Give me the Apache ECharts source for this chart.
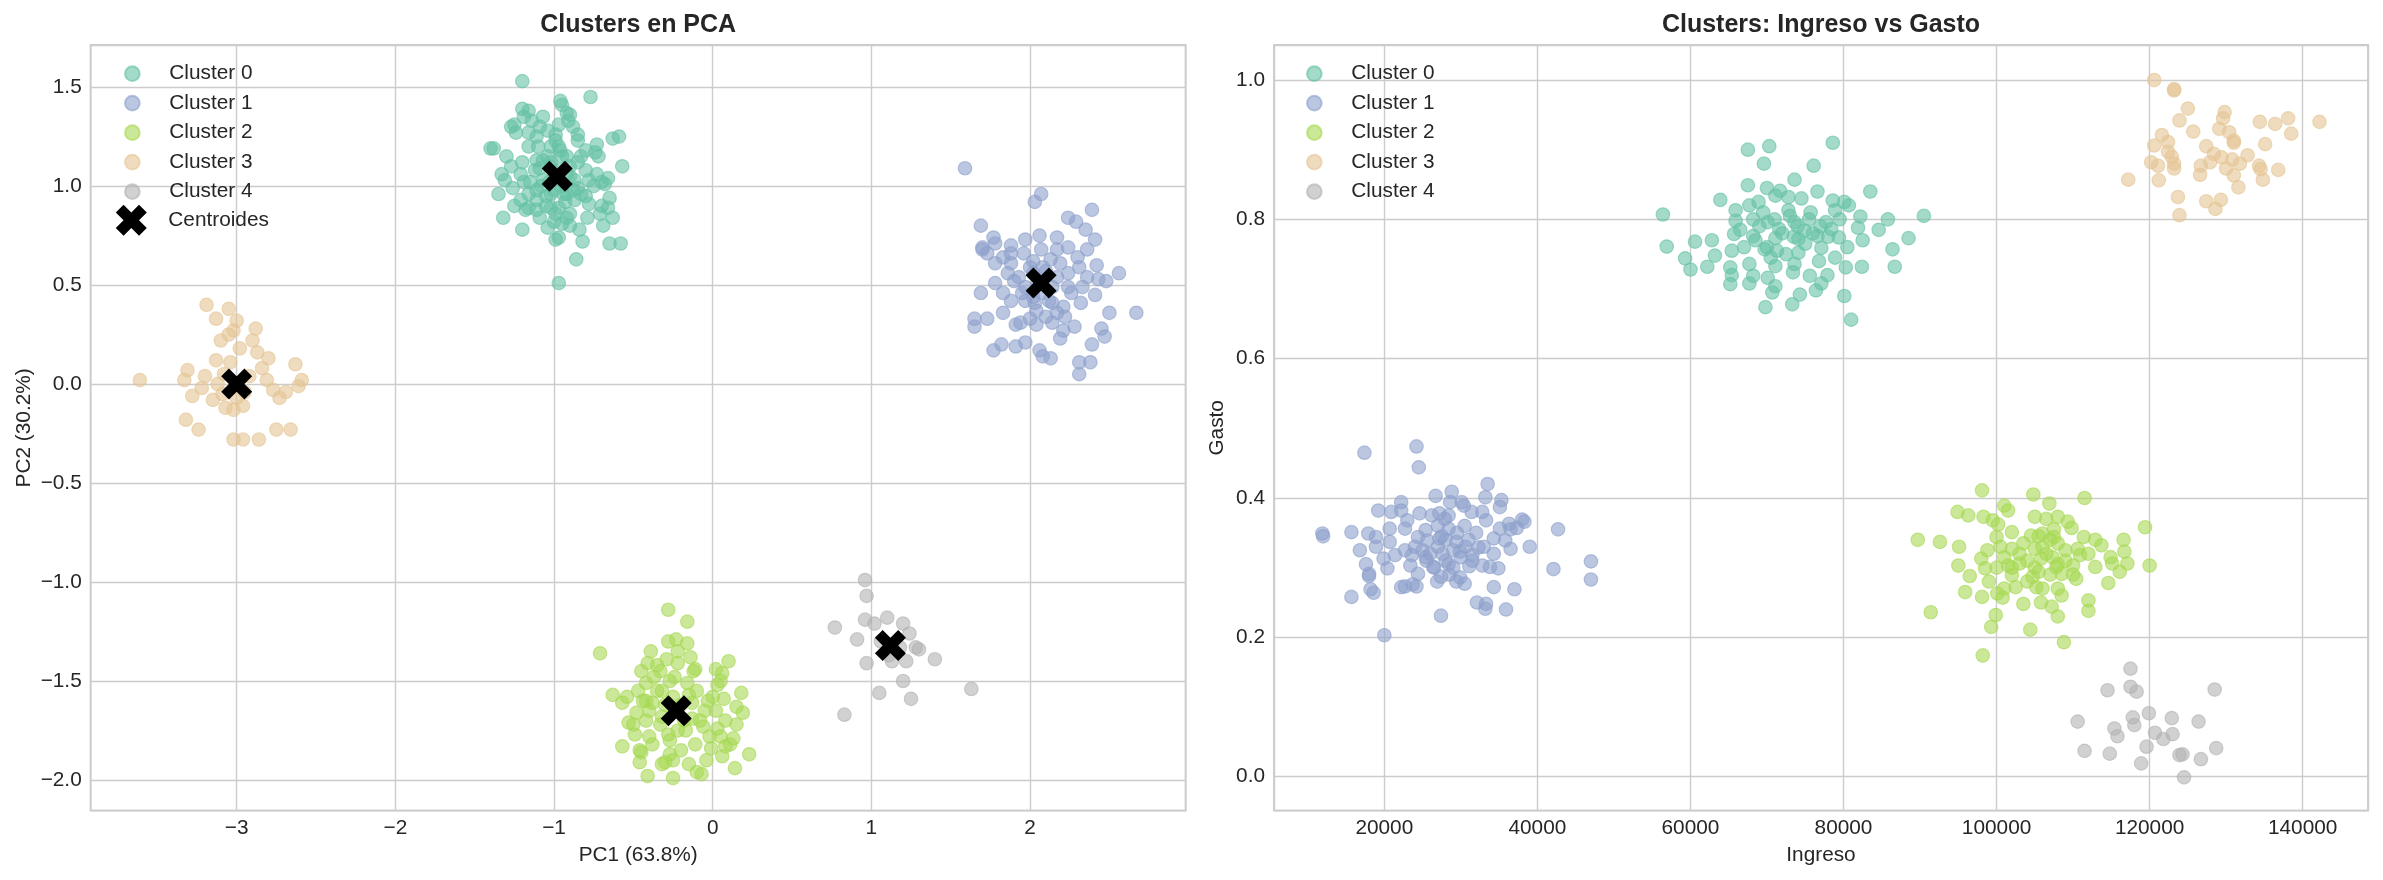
<!DOCTYPE html>
<html>
<head>
<meta charset="utf-8">
<script src="https://cdn.jsdelivr.net/npm/echarts@6/dist/echarts.min.js"></script>
<style>
  html, body { margin: 0; padding: 0; background: #fff; }
  #chart { width: 2383px; height: 880px; }
</style>
</head>
<body>
<div id="chart"></div>
<script>
// nombres y colores (Set2)
var clusterNames = ['Cluster 0', 'Cluster 1', 'Cluster 2', 'Cluster 3', 'Cluster 4'];
var clusterRgb = ['102,194,165', '141,160,203', '166,216,84', '229,196,148', '179,179,179'];

// --- PCA: [PC1, PC2] ---
var pcaCluster0 = [
  [-1.20,1.53],[-0.77,1.45],[-0.96,1.43],[-0.95,1.41],[-1.20,1.39],[-1.16,1.38],[-1.27,1.30],[-1.25,1.31],
  [-1.07,1.35],[-0.91,1.33],[-0.88,1.30],[-1.19,1.35],[-1.40,1.19],[-1.38,1.19],[-0.63,1.24],[-0.59,1.25],
  [-0.73,1.21],[-0.74,1.17],[-0.57,1.10],[-1.11,1.25],[-0.99,1.26],[-0.85,1.23],[-1.02,1.20],[-1.16,1.20],
  [-1.30,1.15],[-1.27,1.10],[-1.33,1.06],[-1.31,1.03],[-1.35,0.96],[-1.32,0.84],[-1.20,0.78],[-0.99,0.73],
  [-0.97,0.74],[-0.82,0.72],[-0.65,0.71],[-0.58,0.71],[-0.86,0.63],[-0.97,0.51],[-0.66,1.04],[-0.68,1.01],
  [-0.70,1.02],[-0.65,0.94],[-0.66,0.89],[-0.71,0.86],[-0.63,0.84],[-0.69,0.80],[-0.79,0.84],[-0.84,0.78],
  [-0.92,0.84],[-1.09,0.84],[-1.02,0.89],[-1.11,0.93],[-1.21,0.93],[-1.16,0.89],[-0.87,0.93],[-0.78,0.91],
  [-0.92,0.96],[-1.07,1.03],[-1.11,0.98],[-0.87,1.03],[-0.80,1.08],[-0.73,1.06],[-0.90,1.10],[-1.11,1.13],
  [-1.04,1.15],[-0.95,1.15],[-0.83,1.15],[-0.97,1.20],[-1.09,1.09],[-1.21,1.06],[-0.97,0.89],[-0.90,0.86],
  [-0.83,0.96],[-1.16,0.96],[-1.02,0.96],[-1.04,0.79],[-0.95,0.81],[-0.99,0.86],[-1.11,0.88],[-0.78,1.03],
  [-0.85,0.99],[-0.80,1.18],[-0.99,1.23],[-1.04,1.28],[-0.97,1.31],[-0.92,1.37],[-0.90,1.36],[-1.14,1.33],
  [-1.09,1.30],[-1.24,1.27],[-1.16,1.27],[-1.02,1.10],[-0.92,1.06],[-1.26,0.99],[-1.19,1.02],
  [-1.00,1.05],[-0.95,1.00],[-1.05,0.95],[-0.90,1.05],[-1.08,1.00],[-0.85,1.12],[-1.12,1.08],[-0.93,0.92],
  [-1.02,1.12],[-0.88,0.98],[-1.15,1.02],[-0.80,0.95],[-0.96,1.18],[-1.05,0.90],[-0.75,1.00],[-1.20,1.12],
  [-0.90,0.80],[-1.00,0.82],[-1.10,1.20],[-0.85,1.26],[-0.92,1.15],[-1.25,0.90],[-0.70,0.90],[-0.72,1.15],
  [-1.18,0.88],[-1.00,0.98],[-0.97,1.08],[-1.03,1.02],[-0.94,0.96],[-1.07,1.13]
];
var pcaCluster1 = [
  [1.59,1.09],[2.07,0.96],[2.03,0.92],[2.39,0.88],[2.24,0.84],[1.69,0.80],[2.29,0.82],[2.35,0.78],
  [2.06,0.75],[2.17,0.74],[2.41,0.73],[2.36,0.68],[1.70,0.69],[1.73,0.66],[1.78,0.71],[1.88,0.70],
  [1.96,0.66],[2.07,0.68],[2.17,0.68],[2.30,0.64],[2.42,0.60],[2.56,0.56],[2.31,0.59],[2.43,0.53],
  [2.36,0.54],[2.24,0.56],[1.88,0.61],[1.78,0.61],[1.86,0.56],[1.90,0.52],[2.00,0.59],[1.97,0.49],
  [1.69,0.46],[1.83,0.46],[1.88,0.42],[2.26,0.46],[2.41,0.45],[2.32,0.41],[2.50,0.36],[2.67,0.36],
  [1.83,0.36],[1.73,0.33],[1.65,0.33],[1.65,0.29],[1.91,0.30],[1.94,0.31],[2.04,0.30],[2.14,0.31],
  [2.28,0.29],[2.21,0.27],[2.19,0.23],[2.45,0.28],[2.47,0.24],[2.39,0.20],[1.82,0.20],[1.77,0.17],
  [1.97,0.21],[1.91,0.19],[2.06,0.17],[2.08,0.14],[2.13,0.13],[2.31,0.11],[2.38,0.11],[2.31,0.05],
  [2.10,0.34],[2.17,0.36],[2.04,0.37],[2.12,0.42],[2.02,0.44],[2.24,0.49],[2.14,0.49],[2.05,0.51],
  [1.93,0.54],[2.10,0.57],[2.19,0.61],[2.02,0.62],[2.13,0.63],[2.24,0.69],[1.97,0.73],[1.88,0.66],
  [1.83,0.64],[1.95,0.46],[2.03,0.41],[2.21,0.39],[2.33,0.49],[2.48,0.52],[1.78,0.51],[2.02,0.56],
  [2.17,0.54],[2.08,0.59],[2.08,0.46],[1.97,0.42],[2.14,0.41],[2.22,0.34],[2.00,0.33],[1.77,0.74],
  [1.70,0.68]
];
var pcaCluster2 = [
  [-0.28,-1.14],[-0.16,-1.20],[-0.71,-1.36],[-0.39,-1.35],[-0.23,-1.29],[-0.16,-1.31],[-0.22,-1.35],[-0.29,-1.39],
  [0.10,-1.40],[-0.41,-1.41],[-0.33,-1.45],[-0.22,-1.41],[-0.11,-1.44],[0.02,-1.44],[0.06,-1.46],[-0.24,-1.48],
  [-0.16,-1.51],[-0.42,-1.51],[0.03,-1.52],[-0.32,-1.55],[-0.63,-1.57],[-0.54,-1.58],[0.18,-1.56],[0.07,-1.59],
  [-0.03,-1.60],[-0.57,-1.61],[-0.13,-1.61],[-0.38,-1.61],[-0.44,-1.60],[0.02,-1.65],[0.15,-1.63],[0.19,-1.66],
  [-0.48,-1.66],[-0.53,-1.71],[0.15,-1.72],[-0.42,-1.70],[-0.32,-1.68],[-0.13,-1.69],[-0.06,-1.73],[0.03,-1.74],
  [-0.49,-1.77],[-0.40,-1.78],[-0.28,-1.77],[-0.17,-1.75],[0.05,-1.78],[0.13,-1.79],[0.11,-1.82],[-0.27,-1.80],
  [-0.11,-1.82],[-0.57,-1.83],[-0.46,-1.85],[-0.45,-1.86],[-0.01,-1.84],[0.08,-1.83],[-0.27,-1.87],[0.23,-1.87],
  [-0.25,-1.90],[0.06,-1.88],[-0.04,-1.90],[-0.46,-1.91],[-0.30,-1.91],[0.14,-1.94],[-0.10,-1.96],[-0.41,-1.98],
  [-0.25,-1.99],[-0.07,-1.97],
  [-0.35,-1.55],[-0.30,-1.62],[-0.25,-1.58],[-0.40,-1.65],[-0.20,-1.62],[-0.33,-1.72],[-0.15,-1.57],[-0.42,-1.60],
  [-0.27,-1.50],[-0.18,-1.70],[-0.37,-1.48],[-0.10,-1.55],[-0.05,-1.65],[-0.47,-1.55],[-0.22,-1.75],[-0.08,-1.70],
  [0.00,-1.58],[-0.12,-1.45],[-0.50,-1.72],[-0.38,-1.82],[0.08,-1.70],[-0.20,-1.85],[-0.35,-1.42],[-0.28,-1.30],
  [-0.14,-1.38],[-0.45,-1.45],[0.05,-1.50],[-0.02,-1.78],[-0.32,-1.92],[-0.15,-1.92]
];
var pcaCluster3 = [
  [-3.19,0.40],[-3.05,0.38],[-3.13,0.33],[-3.00,0.32],[-3.02,0.27],[-2.88,0.28],[-3.10,0.22],[-2.98,0.18],
  [-2.87,0.16],[-3.13,0.12],[-3.04,0.11],[-2.80,0.13],[-2.63,0.10],[-3.31,0.07],[-3.20,0.04],[-2.84,0.08],
  [-3.61,0.02],[-3.33,0.02],[-3.12,0.00],[-2.81,0.02],[-2.59,0.02],[-2.61,-0.01],[-3.22,-0.02],[-2.77,-0.03],
  [-2.69,-0.04],[-3.28,-0.06],[-3.09,-0.05],[-2.73,-0.07],[-3.00,-0.07],[-3.07,-0.12],[-2.96,-0.11],[-3.02,-0.13],
  [-3.32,-0.18],[-3.24,-0.23],[-2.75,-0.23],[-2.66,-0.23],[-3.02,-0.28],[-2.96,-0.28],[-2.86,-0.28],
  [-3.08,0.05],[-2.92,0.04],[-2.95,-0.04],[-3.15,-0.08],[-2.90,0.22],[-3.05,0.25]
];
var pcaCluster4 = [
  [0.96,-0.99],[0.97,-1.07],[0.96,-1.19],[1.02,-1.21],[1.10,-1.18],[1.20,-1.21],[0.77,-1.23],[1.24,-1.26],
  [0.91,-1.29],[1.06,-1.30],[1.18,-1.33],[1.28,-1.33],[1.30,-1.34],[0.97,-1.41],[1.13,-1.40],[1.22,-1.40],
  [1.40,-1.39],[1.20,-1.50],[1.63,-1.54],[1.05,-1.56],[1.25,-1.59],[0.83,-1.67],[1.11,-1.37]
];
var centroids = [[-0.98,1.05],[2.07,0.51],[-0.23,-1.65],[-3.00,0.00],[1.12,-1.32]];

// --- Ingreso vs Gasto: [Ingreso, Gasto] ---
var spendCluster0 = [
  [78600,0.910],[67500,0.900],[70300,0.905],[69600,0.880],[76100,0.877],[73600,0.857],[67500,0.849],[70000,0.845],
  [71700,0.841],[76600,0.840],[83500,0.840],[63900,0.828],[71100,0.834],[72800,0.832],[68900,0.825],[67700,0.820],
  [78600,0.827],[80100,0.825],[80700,0.820],[65900,0.813],[72800,0.813],[75700,0.810],[78900,0.813],[82200,0.804],
  [85800,0.800],[90500,0.805],[56400,0.807],[68200,0.800],[70100,0.796],[73600,0.796],[77700,0.796],[65900,0.798],
  [71600,0.786],[74900,0.784],[78400,0.786],[81900,0.788],[84600,0.785],[88500,0.773],[56900,0.761],[60600,0.768],
  [62800,0.770],[65700,0.779],[68200,0.776],[71100,0.773],[74100,0.772],[76600,0.776],[79400,0.774],[82500,0.770],
  [86400,0.757],[59300,0.744],[63200,0.748],[65400,0.755],[69700,0.757],[71300,0.755],[74100,0.752],[77100,0.759],
  [78900,0.745],[80500,0.760],[60000,0.728],[62200,0.732],[65200,0.731],[67700,0.736],[71100,0.733],[73600,0.736],
  [76800,0.740],[80300,0.731],[82400,0.732],[86700,0.732],[65400,0.720],[68200,0.719],[70100,0.716],[73400,0.724],
  [75600,0.719],[77900,0.720],[65200,0.707],[67700,0.708],[71100,0.704],[77100,0.708],[70700,0.695],[74300,0.692],
  [76400,0.698],[80100,0.690],[69800,0.674],[73300,0.678],[81000,0.656],
  [70000,0.760],[72000,0.780],[74000,0.790],[76000,0.780],[71000,0.800],[73000,0.805],[75000,0.765],[69000,0.790],
  [77000,0.790],[72500,0.750],[68500,0.770],[70500,0.745],[75500,0.800],[73500,0.775],[78000,0.775],[69500,0.810],
  [66500,0.785],[74500,0.830],[79500,0.800],[67000,0.760]
];
var spendCluster1 = [
  [17400,0.465],[24200,0.474],[24500,0.444],[33500,0.420],[28800,0.409],[26700,0.403],[33200,0.401],[35300,0.397],
  [22200,0.394],[28600,0.394],[30100,0.394],[30400,0.389],[19200,0.382],[20900,0.380],[22200,0.382],[24600,0.378],
  [26200,0.375],[27200,0.378],[31400,0.380],[32800,0.380],[35100,0.387],[28400,0.375],[33300,0.368],[36300,0.363],
  [38000,0.369],[38300,0.366],[23000,0.368],[27900,0.370],[11900,0.349],[12000,0.345],[15700,0.351],[17900,0.349],
  [18900,0.344],[20700,0.356],[22700,0.356],[25400,0.354],[28400,0.356],[35100,0.356],[36500,0.355],[37300,0.357],
  [42700,0.355],[16800,0.325],[18900,0.330],[20700,0.337],[22700,0.325],[24400,0.344],[25600,0.339],[27200,0.342],
  [29400,0.337],[30600,0.330],[32300,0.329],[34300,0.342],[35800,0.339],[36500,0.327],[39000,0.330],[17600,0.305],
  [19900,0.313],[21400,0.318],[23600,0.318],[25400,0.315],[27600,0.320],[29900,0.323],[31500,0.318],[34300,0.320],
  [18000,0.291],[20400,0.299],[23400,0.303],[26400,0.301],[28400,0.305],[31100,0.302],[32800,0.303],[33800,0.301],
  [34900,0.299],[47000,0.309],[42100,0.298],[47000,0.283],[18000,0.288],[24400,0.291],[27400,0.287],[29900,0.286],
  [18200,0.269],[22700,0.273],[24200,0.273],[26900,0.280],[29400,0.280],[30500,0.277],[34300,0.272],[37000,0.269],
  [15700,0.258],[18600,0.264],[22200,0.272],[23700,0.276],[32100,0.250],[33300,0.248],[33200,0.241],[35900,0.240],
  [27400,0.231],[20000,0.203],
  [26000,0.320],[27000,0.330],[28000,0.310],[29000,0.325],[30000,0.315],[25000,0.325],[27500,0.345],[29500,0.350],
  [31000,0.340],[26500,0.300],[28500,0.290],[30500,0.360],[32000,0.350],[24000,0.330],[33000,0.330],[29000,0.300],
  [27000,0.360],[31500,0.310],[25500,0.310],[28000,0.340]
];
var spendCluster2 = [
  [98100,0.411],[104800,0.405],[111500,0.400],[106900,0.392],[101000,0.389],[101500,0.382],[94900,0.380],[96300,0.375],
  [98300,0.373],[99500,0.368],[105000,0.373],[106500,0.370],[108000,0.373],[109300,0.366],[100200,0.362],[109800,0.357],
  [119400,0.358],[89700,0.340],[92600,0.337],[95100,0.330],[100000,0.344],[102000,0.351],[104500,0.346],[106000,0.349],
  [107500,0.344],[111400,0.344],[112900,0.340],[113700,0.332],[116600,0.340],[98800,0.325],[101000,0.315],[102000,0.327],
  [103500,0.335],[105000,0.327],[105800,0.313],[107300,0.315],[109000,0.325],[110600,0.327],[110900,0.318],[114900,0.315],
  [116700,0.323],[98000,0.313],[95000,0.303],[98500,0.299],[101500,0.303],[103000,0.306],[105500,0.294],[107800,0.301],
  [110000,0.303],[112900,0.301],[115100,0.306],[117100,0.306],[120000,0.303],[96500,0.288],[99000,0.280],[102000,0.289],
  [104700,0.287],[108500,0.291],[110400,0.284],[116100,0.294],[95900,0.265],[98100,0.258],[100100,0.263],[102500,0.272],
  [105200,0.272],[108000,0.270],[114600,0.278],[100800,0.257],[103500,0.248],[105800,0.250],[108500,0.260],[112000,0.253],
  [99900,0.232],[107200,0.244],[108000,0.230],[112000,0.238],[91400,0.236],[99300,0.215],[104400,0.211],[108800,0.193],
  [98200,0.174],
  [106000,0.330],[107000,0.340],[108000,0.335],[106500,0.320],[104000,0.310],[105000,0.300],[109000,0.310],[103000,0.320],
  [107000,0.290],[108000,0.305],[102000,0.300],[100500,0.330],[110000,0.290],[104000,0.280],[106000,0.270],[100000,0.300],
  [112000,0.320],[107500,0.355],[105500,0.345],[101000,0.270]
];
var spendCluster3 = [
  [120600,1.000],[123200,0.987],[123200,0.985],[125000,0.959],[129800,0.954],[129600,0.945],[123900,0.942],[134400,0.940],
  [136400,0.937],[138100,0.945],[142200,0.940],[138500,0.923],[129100,0.930],[130400,0.925],[125700,0.926],[121600,0.921],
  [122400,0.911],[120600,0.906],[131000,0.913],[131000,0.910],[135100,0.908],[127400,0.905],[122400,0.897],[122900,0.890],
  [129400,0.889],[132800,0.892],[130800,0.886],[120200,0.882],[121100,0.877],[123200,0.880],[123200,0.873],[126700,0.877],
  [127900,0.882],[131800,0.880],[130000,0.873],[134300,0.877],[134500,0.872],[136800,0.871],[117200,0.857],[121200,0.856],
  [126600,0.864],[131000,0.863],[134800,0.857],[131600,0.846],[123700,0.832],[127400,0.826],[129300,0.828],[128600,0.815],
  [123900,0.806],[128400,0.894]
];
var spendCluster4 = [
  [117500,0.155],[114500,0.124],[117500,0.129],[118300,0.122],[128500,0.125],[119900,0.091],[110600,0.079],[117800,0.085],
  [118000,0.074],[122900,0.084],[126400,0.079],[115400,0.069],[115800,0.058],[120700,0.063],[121800,0.054],[123000,0.061],
  [119600,0.043],[128700,0.041],[111500,0.037],[114800,0.033],[123900,0.031],[124300,0.032],[118900,0.019],[126700,0.025],
  [124500,-0.001]
];

var pcaData = [pcaCluster0, pcaCluster1, pcaCluster2, pcaCluster3, pcaCluster4];
var spendData = [spendCluster0, spendCluster1, spendCluster2, spendCluster3, spendCluster4];

var FONT = '"Liberation Sans", Arial, sans-serif';
var TXT = '#262626';
var GRID_C = '#cccccc';
var X_MARK = 'path://M1,0L2,1L3,0L4,1L3,2L4,3L3,4L2,3L1,4L0,3L1,2L0,1Z';

function minus(s) { return String(s).replace('-', '\u2212'); }

function makeAxis(idx, opt) {
  return {
    gridIndex: idx,
    type: 'value',
    min: opt.min,
    max: opt.max,
    splitNumber: opt.split,
    name: opt.name,
    nameLocation: 'middle',
    nameGap: opt.gap,
    nameTextStyle: { fontSize: 20.8, color: TXT, fontFamily: FONT },
    axisLine: { show: false },
    axisTick: { show: false },
    splitLine: { show: true, lineStyle: { color: GRID_C, width: 1.4 } },
    axisLabel: {
      margin: opt.margin,
      fontSize: 20.8,
      color: TXT,
      fontFamily: FONT,
      showMinLabel: false,
      showMaxLabel: false,
      formatter: opt.fmt
    }
  };
}

var series = [];
for (var i = 0; i < 5; i++) {
  var st = {
    color: 'rgba(' + clusterRgb[i] + ',0.6)',
    borderColor: 'rgba(' + clusterRgb[i] + ',0.6)',
    borderWidth: 1.2,
    opacity: 1
  };
  series.push({ type: 'scatter', name: clusterNames[i], xAxisIndex: 0, yAxisIndex: 0,
    data: pcaData[i], symbol: 'circle', symbolSize: 13.5, itemStyle: st, z: 2 });
  series.push({ type: 'scatter', name: clusterNames[i], xAxisIndex: 1, yAxisIndex: 1,
    data: spendData[i], symbol: 'circle', symbolSize: 13.5, itemStyle: st, z: 2 });
}
series.push({ type: 'scatter', name: 'Centroides', xAxisIndex: 0, yAxisIndex: 0,
  data: centroids, symbol: X_MARK, symbolSize: 31, itemStyle: { color: '#000', opacity: 1 }, z: 3 });

var legendText = { fontSize: 20.8, color: TXT, fontFamily: FONT };
var clusterLegendData = clusterNames.map(function (n) { return { name: n, icon: 'circle' }; });

// la caja de la leyenda empieza en el borde del icono
var myChart = echarts.init(document.getElementById('chart'), null, { renderer: 'canvas' });
var option = {
  animation: false,
  backgroundColor: '#fff',
  title: [
    { text: 'Clusters en PCA', left: 638.2, top: 12.5, textAlign: 'center', padding: 0,
      textStyle: { fontSize: 25, fontWeight: 'bold', color: TXT, fontFamily: FONT } },
    { text: 'Clusters: Ingreso vs Gasto', left: 1821, top: 12.5, textAlign: 'center', padding: 0,
      textStyle: { fontSize: 25, fontWeight: 'bold', color: TXT, fontFamily: FONT } }
  ],
  legend: [
    { data: clusterLegendData, orient: 'vertical', left: 124, top: 63.2, padding: 0,
      itemWidth: 64, itemHeight: 14.7, itemGap: 8.5, selectedMode: false, textStyle: legendText },
    { data: [{ name: 'Centroides', icon: X_MARK }], orient: 'vertical', left: 115.8, top: 204.8, padding: 0,
      itemWidth: 64, itemHeight: 31, selectedMode: false, textStyle: legendText },
    { data: clusterLegendData, orient: 'vertical', left: 1306, top: 63.2, padding: 0,
      itemWidth: 64, itemHeight: 14.7, itemGap: 8.5, selectedMode: false, textStyle: legendText }
  ],
  grid: [
    { left: 90.7, top: 45, width: 1095, height: 765.7, show: true, borderColor: GRID_C, borderWidth: 1.8,
      containLabel: false, outerBoundsMode: 'none' },
    { left: 1274, top: 45, width: 1094, height: 765.7, show: true, borderColor: GRID_C, borderWidth: 1.8,
      containLabel: false, outerBoundsMode: 'none' }
  ],
  xAxis: [
    makeAxis(0, { min: -3.92, max: 2.981, split: 5, name: 'PC1 (63.8%)', gap: 34, margin: 7,
      fmt: function (v) { return minus(v); } }),
    makeAxis(1, { min: 5582, max: 148536, split: 7, name: 'Ingreso', gap: 34, margin: 7,
      fmt: function (v) { return String(v); } })
  ],
  yAxis: [
    makeAxis(0, { min: -2.155, max: 1.7126, split: 8, name: 'PC2 (30.2%)', gap: 56, margin: 9,
      fmt: function (v) { return minus(v.toFixed(1)); } }),
    makeAxis(1, { min: -0.0489, max: 1.0503, split: 5, name: 'Gasto', gap: 46, margin: 9,
      fmt: function (v) { return minus(v.toFixed(1)); } })
  ],
  series: series
};
myChart.setOption(option);
</script>
</body>
</html>
